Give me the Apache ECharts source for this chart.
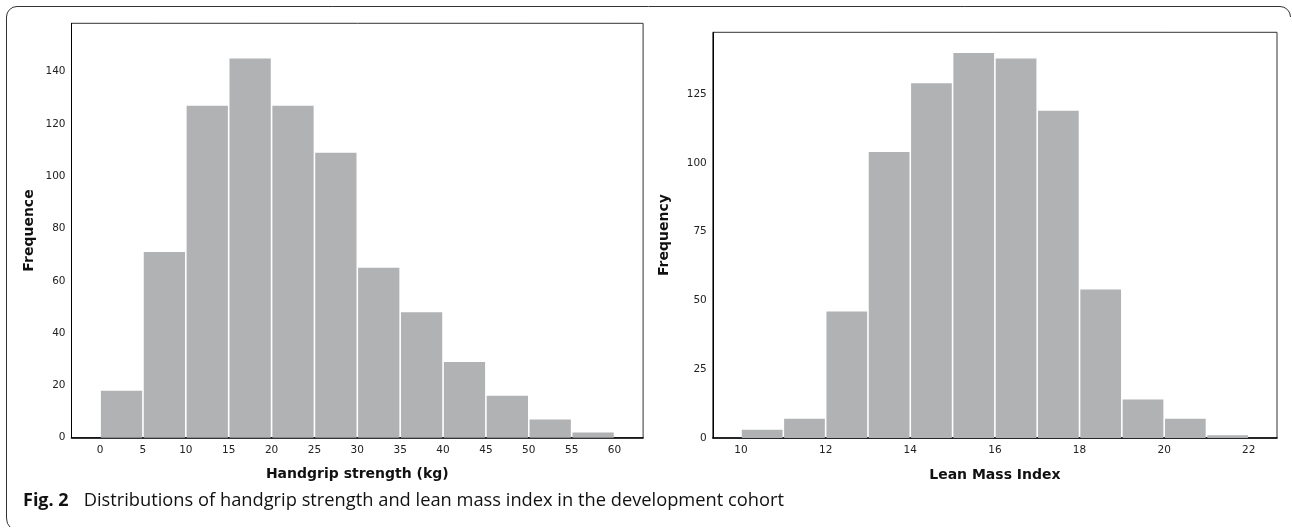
<!DOCTYPE html>
<html>
<head>
<meta charset="utf-8">
<script src="https://cdn.jsdelivr.net/npm/echarts@6/dist/echarts.min.js"></script>
<style>html,body{margin:0;padding:0;background:#fff;}#c{width:1292px;height:528px;}</style>
</head>
<body>
<div id="c"></div>
<script>
// Handgrip strength histogram (bin edges, kg) and counts
var hgEdges = [0, 5, 10, 15, 20, 25, 30, 35, 40, 45, 50, 55, 60];
var hgCounts = [18, 71, 127, 145, 127, 109, 65, 48, 29, 16, 7, 2];
var hgXTicks = [0, 5, 10, 15, 20, 25, 30, 35, 40, 45, 50, 55, 60];
var hgYTicks = [0, 20, 40, 60, 80, 100, 120, 140];

// Lean mass index histogram (bin edges) and counts
var lmiEdges = [10, 11, 12, 13, 14, 15, 16, 17, 18, 19, 20, 21, 22];
var lmiCounts = [3, 7, 46, 104, 129, 140, 138, 119, 54, 14, 7, 1];
var lmiXTicks = [10, 12, 14, 16, 18, 20, 22];
var lmiYTicks = [0, 25, 50, 75, 100, 125];

var hgXTitle = 'Handgrip strength (kg)';
var hgYTitle = 'Frequence';
var lmiXTitle = 'Lean Mass Index';
var lmiYTitle = 'Frequency';
var captionBold = 'Fig. 2';
var captionText = 'Distributions of handgrip strength and lean mass index in the development cohort';

function toBins(edges, counts) {
  var out = [];
  for (var i = 0; i < counts.length; i++) out.push([edges[i], edges[i + 1], counts[i]]);
  return out;
}

var BAR = '#b1b2b4';
function renderItem(params, api) {
  var a = api.coord([api.value(0), api.value(2)]);
  var b = api.coord([api.value(1), 0]);
  return {
    type: 'rect',
    shape: { x: a[0] + 0.8, y: a[1], width: b[0] - a[0] - 1.6, height: b[1] - a[1] },
    style: { fill: BAR }
  };
}

var tickFont = { fontFamily: 'DejaVu Sans', fontSize: 10.5, color: '#222' };
var titleFont = { fontFamily: 'DejaVu Sans', fontSize: 14, fontWeight: 'bold', color: '#111' };

function xAxis(gi, min, max, ticks, title) {
  return {
    type: 'value', gridIndex: gi, min: min, max: max,
    name: title, nameLocation: 'middle', nameGap: 30, nameTextStyle: titleFont,
    axisLine: { show: true, onZero: false, lineStyle: { color: '#000', width: 1.6 } },
    axisTick: { show: false },
    splitLine: { show: false },
    axisLabel: Object.assign({ customValues: ticks, margin: 7 }, tickFont)
  };
}
function yAxis(gi, max, ticks, title, gap) {
  return {
    type: 'value', gridIndex: gi, min: 0, max: max,
    name: title, nameLocation: 'middle', nameGap: gap, nameTextStyle: titleFont,
    axisLine: { show: true, onZero: false, lineStyle: { color: '#000', width: 1 } },
    axisTick: { show: false },
    splitLine: { show: false },
    axisLabel: Object.assign({ customValues: ticks, margin: 6 }, tickFont)
  };
}

var frameStyle = { fill: null, stroke: '#333', lineWidth: 1 };
var chart = echarts.init(document.getElementById('c'), null, { renderer: 'canvas' });
chart.setOption({
  animation: false,
  backgroundColor: '#fff',
  grid: [
    { left: 71.5, top: 23.3, width: 571.6, height: 414.4, show: true, borderColor: '#333', borderWidth: 1, containLabel: false },
    { left: 712.8, top: 32.3, width: 564.2, height: 405.7, show: true, borderColor: '#333', borderWidth: 1, containLabel: false }
  ],
  xAxis: [
    xAxis(0, -10 / 3, 60 + 10 / 3, hgXTicks, hgXTitle),
    xAxis(1, 10 - 2 / 3, 22 + 2 / 3, lmiXTicks, lmiXTitle)
  ],
  yAxis: [
    yAxis(0, 158.5, hgYTicks, hgYTitle, 35),
    yAxis(1, 147.5, lmiYTicks, lmiYTitle, 41)
  ],
  series: [
    { type: 'custom', xAxisIndex: 0, yAxisIndex: 0, renderItem: renderItem, encode: { x: [0, 1], y: 2 }, data: toBins(hgEdges, hgCounts) },
    { type: 'custom', xAxisIndex: 1, yAxisIndex: 1, renderItem: renderItem, encode: { x: [0, 1], y: 2 }, data: toBins(lmiEdges, lmiCounts) }
  ],
  graphic: [
    { type: 'line', shape: { x1: 17, y1: 6.5, x2: 1280, y2: 6.5 }, style: frameStyle },
    { type: 'line', shape: { x1: 6.5, y1: 17, x2: 6.5, y2: 518 }, style: frameStyle },
    { type: 'arc', shape: { cx: 17, cy: 17, r: 10.5, startAngle: Math.PI, endAngle: Math.PI * 1.5 }, style: frameStyle },
    { type: 'arc', shape: { cx: 1280, cy: 17, r: 10.5, startAngle: Math.PI * 1.5, endAngle: Math.PI * 2 }, style: frameStyle },
    { type: 'bezierCurve', shape: { x1: 6.5, y1: 518, x2: 10, y2: 527, cpx1: 6.5, cpy1: 524 }, style: frameStyle },
    {
      type: 'text', left: 23, top: 492,
      style: {
        text: '{b|' + captionBold + '}{r|' + captionText + '}',
        rich: {
          b: { fontFamily: 'Open Sans', fontSize: 18, fontWeight: 'bold', fill: '#111', padding: [0, 15, 0, 0] },
          r: { fontFamily: 'Open Sans', fontSize: 18.3, fill: '#111' }
        }
      }
    }
  ]
});
</script>
</body>
</html>
